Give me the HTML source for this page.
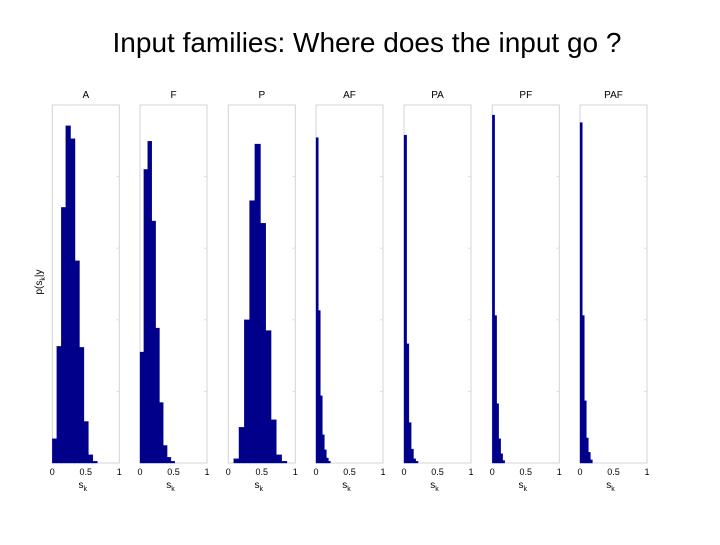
<!DOCTYPE html>
<html><head><meta charset="utf-8"><style>
body{margin:0;background:#fff;width:720px;height:540px;overflow:hidden}
svg{font-family:"Liberation Sans",sans-serif}
</style></head><body>
<svg width="720" height="540">
<text x="367" y="52" font-size="28" text-anchor="middle" fill="#000">Input families: Where does the input go ?</text>
<text transform="translate(42,282) rotate(-90)" font-size="10" text-anchor="middle" fill="#000">p(s<tspan font-size="7" dy="3">k</tspan><tspan dy="-3">|y</tspan></text>
<g id="panels"></g>
</svg>
<script>
const panelNames=["A","F","P","AF","PA","PF","PAF"];
const panelX0=[52.3,140,228.3,316,404,492.3,580];
const binStarts=[0,0,0.08,0,0,0,0];
const binWidths=[0.0667,0.057,0.079,0.03,0.034,0.03,0.03];
const valsA=[0.068,0.326,0.714,0.942,0.906,0.565,0.323,0.116,0.023,0.005];
const valsF=[0.310,0.820,0.899,0.676,0.377,0.169,0.049,0.016,0.005];
const valsP=[0.012,0.100,0.400,0.733,0.891,0.670,0.370,0.121,0.023,0.005];
const valsAF=[0.909,0.426,0.188,0.079,0.037,0.014,0.005];
const valsPA=[0.916,0.333,0.113,0.039,0.012,0.005];
const valsPF=[0.972,0.412,0.166,0.068,0.026,0.007];
const valsPAF=[0.951,0.412,0.174,0.070,0.030,0.009];
const allVals=[valsA,valsF,valsP,valsAF,valsPA,valsPF,valsPAF];
const xTicks=[0,0.5,1];
const xTickLabels=["0","0.5","1"];
const NS="http://www.w3.org/2000/svg";
const W=67,TOP=105,BOT=463;
const g=document.getElementById("panels");
function mk(t,a,p){const e=document.createElementNS(NS,t);for(const k in a)e.setAttribute(k,a[k]);(p||g).appendChild(e);return e;}
panelNames.forEach((nm,i)=>{
  const x0=panelX0[i];
  const sx=v=>x0+v*W, sy=v=>BOT-v*(BOT-TOP);
  const pg=mk("g",{});
  
  
  const box=mk("rect",{x:x0,y:TOP,width:W,height:BOT-TOP,fill:"none",stroke:"#d4d4d4","stroke-width":1},pg);
  
  
  [0.2,0.4,0.6,0.8].forEach(f=>{mk("line",{x1:x0+W-3,x2:x0+W,y1:sy(f),y2:sy(f),stroke:"#ddd"},pg);});
  allVals[i].forEach((v,j)=>{
    const b=mk("rect",{x:sx(binStarts[i]+j*binWidths[i]),y:sy(v),width:binWidths[i]*W+0.4,height:BOT-sy(v),fill:"#00008b",stroke:"#00008b","stroke-width":0.3},pg);
    
    
  });
  const t=mk("text",{x:sx(0.5),y:98,"font-size":10,"text-anchor":"middle",fill:"#000"},pg);
  t.textContent=nm;
  
  
  xTicks.forEach((tv,k)=>{
    const tl=mk("text",{x:sx(tv),y:475,"font-size":9,"text-anchor":"middle",fill:"#000"},pg);
    tl.textContent=xTickLabels[k];
    
    
  });
  const xl=mk("text",{x:sx(0.5)-3,y:488,"font-size":10,"text-anchor":"middle",fill:"#000"},pg);
  xl.innerHTML='s<tspan font-size="7" dy="3">k</tspan>';
  
  
});
</script>
</body></html>
